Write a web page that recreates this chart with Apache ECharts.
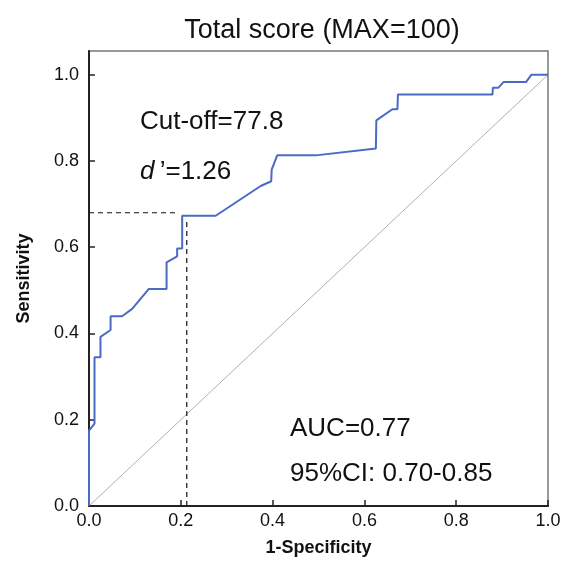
<!DOCTYPE html>
<html>
<head>
<meta charset="utf-8">
<script src="https://cdn.jsdelivr.net/npm/echarts@6/dist/echarts.min.js"></script>
<style>
  html, body { margin: 0; padding: 0; background: #fff; }
  #chart { width: 566px; height: 562px; }
</style>
</head>
<body>
<div id="chart"></div>
<script>
// ROC curve: 1-specificity (x) vs sensitivity (y)
const fpr = [0, 0, 0.012, 0.012, 0.025, 0.025, 0.047, 0.047, 0.072, 0.094, 0.13, 0.169, 0.169,
  0.192, 0.192, 0.203, 0.203, 0.276, 0.374, 0.397, 0.398, 0.41, 0.494, 0.625, 0.626, 0.661,
  0.672, 0.673, 0.879, 0.88, 0.892, 0.903, 0.952, 0.964, 1];
const tpr = [0, 0.175, 0.191, 0.345, 0.345, 0.392, 0.408, 0.44, 0.44, 0.457, 0.503, 0.503, 0.565,
  0.579, 0.597, 0.597, 0.673, 0.673, 0.742, 0.753, 0.78, 0.813, 0.813, 0.829, 0.894, 0.92,
  0.92, 0.954, 0.954, 0.97, 0.97, 0.983, 0.983, 1, 1];
const refLine = [[0, 0], [1, 1]];
const cutH = [[0, 0.68], [0.192, 0.68]];
const cutV = [[0.213, 0], [0.213, 0.663]];
const ticks = [0, 0.2, 0.4, 0.6, 0.8, 1.0];

const font = "'Liberation Sans', Arial, Helvetica, sans-serif";
const chart = echarts.init(document.getElementById('chart'));

const axisCommon = {
  type: 'value',
  min: 0,
  interval: 0.2,
  splitLine: { show: false },
  axisLine: { show: true, lineStyle: { color: '#222', width: 2 } },
  axisTick: { show: true, inside: true, length: 6, lineStyle: { color: '#222', width: 1.5 }, customValues: ticks },
  axisLabel: {
    customValues: ticks,
    formatter: (v) => v.toFixed(1),
    fontFamily: font, fontSize: 18, color: '#111'
  },
  nameLocation: 'middle',
  nameTextStyle: { fontFamily: font, fontSize: 18, fontWeight: 'bold', color: '#111' }
};

chart.setOption({
  animation: false,
  title: {
    text: 'Total score (MAX=100)',
    left: 317, top: 12, textAlign: 'center',
    textStyle: { fontFamily: font, fontSize: 27, fontWeight: 'normal', color: '#111' }
  },
  grid: {
    left: 89, right: 18, top: 51, bottom: 48,
    show: true, borderColor: '#777', borderWidth: 1.5
  },
  xAxis: Object.assign({}, axisCommon, {
    max: 1,
    name: '1-Specificity', nameGap: 33,
    axisLabel: Object.assign({}, axisCommon.axisLabel, { margin: 6 })
  }),
  yAxis: Object.assign({}, axisCommon, {
    max: 1.055,
    name: 'Sensitivity', nameGap: 56,
    axisLabel: Object.assign({}, axisCommon.axisLabel, { margin: 10 })
  }),
  series: [
    {
      type: 'line', data: refLine, showSymbol: false, silent: true,
      lineStyle: { color: '#b0b0b0', width: 1 }
    },
    {
      type: 'line', data: cutH, showSymbol: false, silent: true,
      lineStyle: { color: '#111', width: 1.2, type: [5, 4] }
    },
    {
      type: 'line', data: cutV, showSymbol: false, silent: true,
      lineStyle: { color: '#111', width: 1.2, type: [5, 4] }
    },
    {
      type: 'line', data: fpr.map((x, i) => [x, tpr[i]]), showSymbol: false, z: 5,
      lineStyle: { color: '#4a6bc4', width: 2 }
    }
  ],
  graphic: [
    {
      type: 'text', left: 140, top: 109,
      style: { text: 'Cut-off=77.8', fontFamily: font, fontSize: 26, fill: '#111' }
    },
    {
      type: 'text', left: 140, top: 159,
      style: {
        text: '{i|d}\u2009\u2019=1.26',
        fontFamily: font, fontSize: 26, fill: '#111',
        rich: { i: { fontStyle: 'italic', fontFamily: font, fontSize: 26, fill: '#111' } }
      }
    },
    {
      type: 'text', left: 290, top: 416,
      style: { text: 'AUC=0.77', fontFamily: font, fontSize: 26, fill: '#111' }
    },
    {
      type: 'text', left: 290, top: 461,
      style: { text: '95%CI: 0.70-0.85', fontFamily: font, fontSize: 26, fill: '#111' }
    }
  ]
});
</script>
</body>
</html>
